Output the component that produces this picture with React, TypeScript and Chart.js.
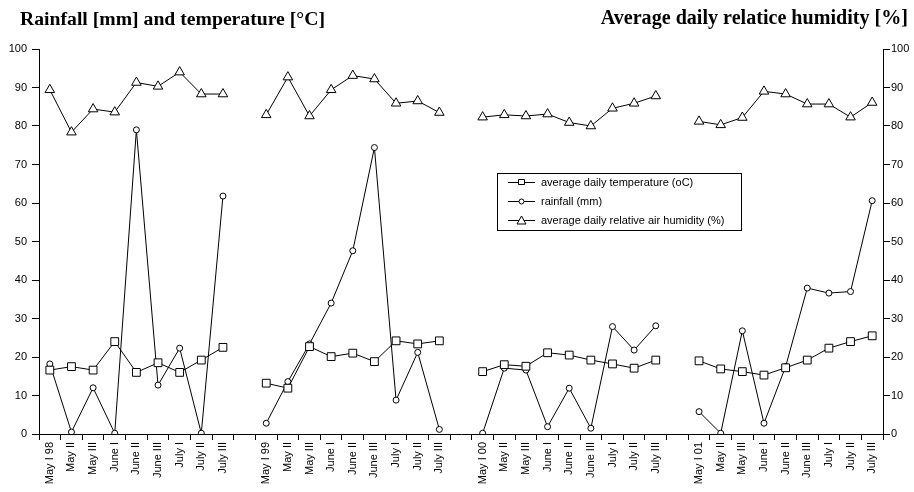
import React, { useEffect, useRef } from "react";
import { Chart, registerables } from "chart.js";

Chart.register(...registerables);

const categories = [
  "May I 98", "May II", "May III", "June I", "June II", "June III", "July I", "July II", "July III", "",
  "May I 99", "May II", "May III", "June I", "June II", "June III", "July I", "July II", "July III", "",
  "May I 00", "May II", "May III", "June I", "June II", "June III", "July I", "July II", "July III", "",
  "May I 01", "May II", "May III", "June I", "June II", "June III", "July I", "July II", "July III",
];

const temperature = [
  16.6, 17.5, 16.6, 24.0, 16.0, 18.5, 16.0, 19.2, 22.5, null,
  13.2, 11.9, 22.7, 20.1, 21.0, 18.8, 24.2, 23.4, 24.2, null,
  16.2, 18.0, 17.6, 21.1, 20.5, 19.2, 18.2, 17.1, 19.2, null,
  19.0, 16.9, 16.2, 15.3, 17.2, 19.2, 22.3, 24.0, 25.5,
];

const rainfall = [
  18.2, 0.5, 12.0, 0.2, 79.0, 12.7, 22.3, 0.2, 61.8, null,
  2.8, 13.6, 23.4, 34.0, 47.6, 74.4, 8.8, 21.2, 1.2, null,
  0.2, 17.1, 16.6, 1.9, 11.9, 1.5, 27.9, 21.8, 28.1, null,
  5.8, 0.2, 26.8, 2.8, 17.5, 37.9, 36.6, 37.0, 60.6,
];

const humidity = [
  89.4, 78.4, 84.4, 83.6, 91.3, 90.3, 94.0, 88.3, 88.3, null,
  82.9, 92.7, 82.6, 89.4, 93.1, 92.2, 85.9, 86.5, 83.5, null,
  82.3, 82.9, 82.6, 83.1, 80.9, 80.0, 84.6, 85.9, 87.8, null,
  81.2, 80.3, 82.2, 89.0, 88.3, 85.7, 85.7, 82.3, 86.1,
];

const seriesNames = [
  "average daily temperature (oC)",
  "rainfall (mm)",
  "average daily relative air humidity (%)",
];

const leftTitle = "Rainfall [mm] and temperature [°C]";
const rightTitle = "Average daily relatice humidity [%]";

const TICK_FONT = { family: "'Liberation Sans', Arial, sans-serif", size: 11 };

const legendPlugin = {
  id: "boxLegend",
  afterDraw(chart: any) {
    const ctx = chart.ctx;
    const x0 = 497, y0 = 173, w = 244, h = 57;
    ctx.save();
    ctx.fillStyle = "#fff";
    ctx.fillRect(x0, y0, w, h);
    ctx.strokeStyle = "#000";
    ctx.lineWidth = 1;
    ctx.strokeRect(x0 + 0.5, y0 + 0.5, w, h);
    const rows = [182, 201, 220];
    const styles = ["rect", "circle", "triangle"];
    rows.forEach((y, i) => {
      ctx.strokeStyle = "#000";
      ctx.beginPath();
      ctx.moveTo(508, y + 0.5);
      ctx.lineTo(535, y + 0.5);
      ctx.stroke();
      const cx = 521.5;
      ctx.fillStyle = "#fff";
      ctx.beginPath();
      if (styles[i] === "rect") {
        ctx.rect(cx - 3, y - 2.5, 6, 5);
      } else if (styles[i] === "circle") {
        ctx.arc(cx, y + 0.5, 2.5, 0, Math.PI * 2);
      } else {
        ctx.moveTo(cx, y - 4);
        ctx.lineTo(cx + 4.5, y + 4);
        ctx.lineTo(cx - 4.5, y + 4);
        ctx.closePath();
      }
      ctx.fill();
      ctx.stroke();
      ctx.fillStyle = "#000";
      ctx.font = "11px 'Liberation Sans', Arial, sans-serif";
      ctx.textAlign = "left";
      ctx.textBaseline = "middle";
      ctx.fillText(seriesNames[i], 541, y + 1);
    });
    ctx.restore();
  },
};

export default function App() {
  const ref = useRef<HTMLCanvasElement | null>(null);

  useEffect(() => {
    if (!ref.current) return;
    const common = {
      borderColor: "#000",
      borderWidth: 1,
      pointBorderColor: "#000",
      pointBackgroundColor: "#fff",
      pointBorderWidth: 1,
      spanGaps: false,
      tension: 0,
    };
    const chart = new Chart(ref.current, {
      type: "line",
      data: {
        labels: categories,
        datasets: [
          { ...common, label: seriesNames[0], data: temperature, pointStyle: "rect", pointRadius: 5.5, yAxisID: "y" },
          { ...common, label: seriesNames[1], data: rainfall, pointStyle: "circle", pointRadius: 3, yAxisID: "y" },
          { ...common, label: seriesNames[2], data: humidity, pointStyle: "triangle", pointRadius: 5.5, yAxisID: "y2" },
        ],
      },
      options: {
        animation: false,
        responsive: false,
        maintainAspectRatio: false,
        layout: { padding: { top: 49, left: 0, right: 0, bottom: 0 } },
        plugins: { legend: { display: false }, tooltip: { enabled: false }, title: { display: false } },
        scales: {
          x: {
            type: "category",
            offset: true,
            grid: { display: true, drawOnChartArea: false, drawTicks: true, tickLength: 6, color: "#000", offset: true },
            border: { color: "#000", width: 1 },
            ticks: { color: "#000", font: TICK_FONT, minRotation: 90, maxRotation: 90, autoSkip: false, padding: 2 },
            afterFit: (s: any) => { s.height = 58; },
          },
          y: {
            position: "left",
            min: 0,
            max: 100,
            grid: { display: true, drawOnChartArea: false, tickLength: 7, color: "#000" },
            border: { color: "#000", width: 1 },
            ticks: { stepSize: 10, color: "#000", font: TICK_FONT, padding: 5 },
            afterFit: (s: any) => { s.width = 39; },
          },
          y2: {
            position: "right",
            min: 0,
            max: 100,
            grid: { display: true, drawOnChartArea: false, tickLength: 7, color: "#000" },
            border: { color: "#000", width: 1 },
            ticks: { stepSize: 10, color: "#000", font: TICK_FONT, padding: 1 },
            afterFit: (s: any) => { s.width = 31; },
          },
        },
      },
      plugins: [legendPlugin],
    } as any);
    return () => chart.destroy();
  }, []);

  const titleStyle: React.CSSProperties = {
    position: "absolute",
    fontFamily: "'Liberation Serif', 'Times New Roman', serif",
    fontWeight: "bold",
    lineHeight: "20px",
    whiteSpace: "nowrap",
    color: "#000",
  };

  return (
    <div style={{ position: "absolute", left: 0, top: 0, width: 914, height: 492, background: "#fff" }}>
      <canvas ref={ref} width={914} height={492} style={{ position: "absolute", left: 0, top: 0, width: 914, height: 492 }} />
      <div style={{ ...titleStyle, fontSize: 19.7, left: 20, top: 8 }}>{leftTitle}</div>
      <div style={{ ...titleStyle, fontSize: 20.1, right: 6, top: 7 }}>{rightTitle}</div>
    </div>
  );
}
